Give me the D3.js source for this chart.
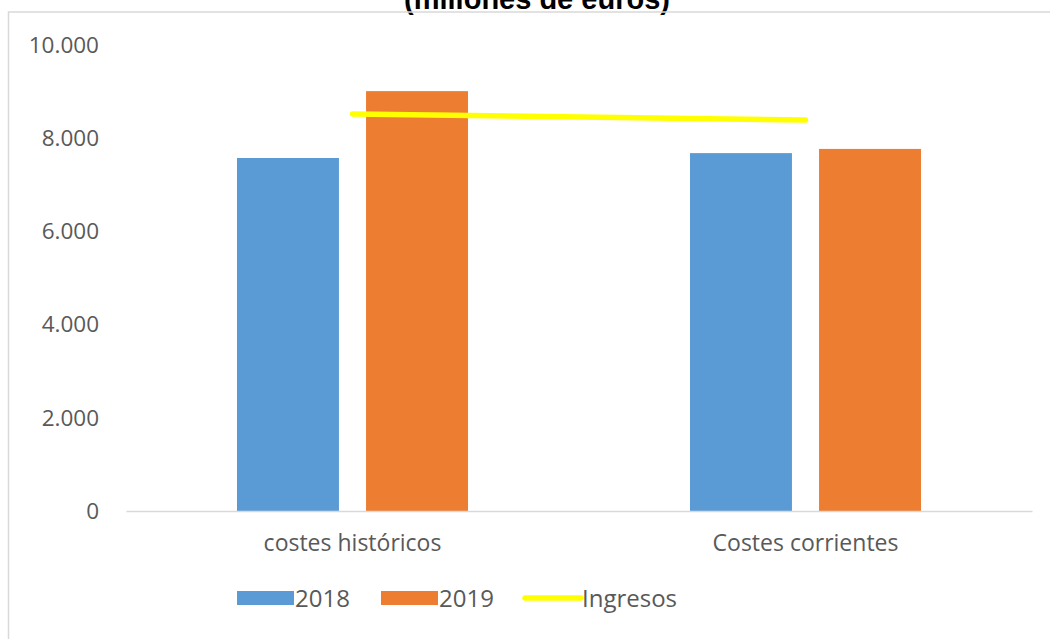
<!DOCTYPE html>
<html>
<head>
<meta charset="utf-8">
<script src="https://cdn.jsdelivr.net/npm/d3@7"></script>
<style>
  html, body { margin: 0; padding: 0; background: #fff; overflow: hidden; }
</style>
</head>
<body>
<div id="chart"></div>
<script>
// data
const categories = ["costes históricos", "Costes corrientes"];
const seriesNames = ["2018", "2019"];
const values2018 = [7575, 7680];
const values2019 = [9010, 7770];
const ingresos = [8520, 8390];
const yTicks = [0, 2000, 4000, 6000, 8000, 10000];
const lineName = "Ingresos";

const width = 1050, height = 639;
const colors = { "2018": "#5b9bd5", "2019": "#ed7d31" };
const textColor = "#595959";
const gridColor = "#d9d9d9";
const font = "'Open Sans', sans-serif";

const svg = d3.select("#chart").append("svg")
    .attr("width", width)
    .attr("height", height)
    .attr("font-family", font);

// plot area
const plot = { left: 126, right: 1032, top: 45, bottom: 511 };

const x0 = d3.scaleBand().domain(categories).range([plot.left, plot.right]);
const x1 = d3.scaleBand().domain(seriesNames)
    .range([x0.bandwidth() * 0.245, x0.bandwidth() * 0.755])
    .paddingInner(0.21);
const y = d3.scaleLinear().domain([0, 10000]).range([plot.bottom, plot.top]);

const fmt = d => d3.format(",")(d).replace(/,/g, ".");

// title (partly cut off at the top, as in the source)
svg.append("text")
    .attr("x", 537)
    .attr("y", 9)
    .attr("text-anchor", "middle")
    .attr("font-family", "'Liberation Sans', Arial, sans-serif")
    .attr("font-weight", "bold")
    .attr("font-size", 29)
    .attr("fill", "#000")
    .text("(millones de euros)");

// chart frame
svg.append("rect")
    .attr("x", 8.5)
    .attr("y", 12)
    .attr("width", 1100)
    .attr("height", 700)
    .attr("fill", "none")
    .attr("stroke", gridColor)
    .attr("stroke-width", 1.5);

// y axis labels
const yAxis = d3.axisLeft(y).tickValues(yTicks).tickFormat(fmt).tickSize(0).tickPadding(27);
const gy = svg.append("g").attr("transform", `translate(${plot.left},0)`).call(yAxis);
gy.select(".domain").remove();
gy.selectAll("text")
    .attr("font-family", font)
    .attr("font-size", 22.5)
    .attr("fill", textColor);

// bars
const rows = categories.map((c, i) => ({ cat: c, vals: [values2018[i], values2019[i]] }));
const groups = svg.append("g").selectAll("g")
    .data(rows)
    .join("g")
    .attr("transform", d => `translate(${x0(d.cat)},0)`);

groups.selectAll("rect")
    .data(d => seriesNames.map((s, j) => ({ s, v: d.vals[j] })))
    .join("rect")
    .attr("x", d => x1(d.s))
    .attr("width", x1.bandwidth())
    .attr("y", d => y(d.v))
    .attr("height", d => y(0) - y(d.v))
    .attr("fill", d => colors[d.s]);

// x axis
const xAxis = d3.axisBottom(x0).tickSize(0).tickPadding(24);
const gx = svg.append("g").attr("transform", `translate(0,${plot.bottom})`).call(xAxis);
gx.select(".domain").attr("stroke", gridColor).attr("stroke-width", 1.5);
gx.selectAll("text")
    .attr("font-family", font)
    .attr("font-size", 23)
    .attr("fill", textColor);

// ingresos line
const line = d3.line()
    .x((d, i) => x0(categories[i]) + x0.bandwidth() / 2)
    .y(d => y(d));
svg.append("path")
    .datum(ingresos)
    .attr("d", line)
    .attr("fill", "none")
    .attr("stroke", "#ffff00")
    .attr("stroke-width", 5.5)
    .attr("stroke-linecap", "round");

// legend
const legend = svg.append("g").attr("transform", "translate(237,591)");
const items = [
    { name: "2018", type: "rect", x: 0 },
    { name: "2019", type: "rect", x: 144 },
    { name: lineName, type: "line", x: 286 }
];
items.forEach(it => {
    const g = legend.append("g").attr("transform", `translate(${it.x},0)`);
    if (it.type === "rect") {
        g.append("rect").attr("width", 57).attr("height", 14).attr("fill", colors[it.name]);
        g.append("text").attr("x", 58).attr("y", 16)
            .attr("font-size", 24).attr("fill", textColor).text(it.name);
    } else {
        g.append("line").attr("x1", 2).attr("x2", 58).attr("y1", 7).attr("y2", 7)
            .attr("stroke", "#ffff00").attr("stroke-width", 5.5).attr("stroke-linecap", "round");
        g.append("text").attr("x", 59).attr("y", 16)
            .attr("font-size", 24).attr("fill", textColor).text(it.name);
    }
});
</script>
</body>
</html>
